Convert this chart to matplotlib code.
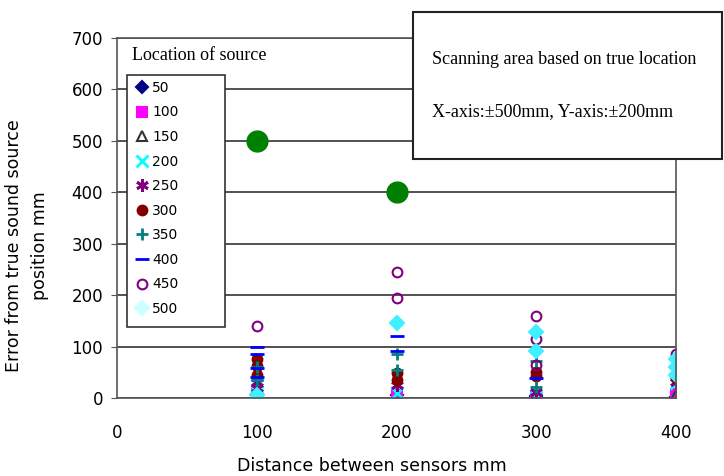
import matplotlib.pyplot as plt
from matplotlib.lines import Line2D
from matplotlib.patches import Rectangle

# data (distance between sensors, error mm)
x_50 = [100, 200, 300, 400]
y_50 = [8, 5, 3, 2]
x_100 = [100, 200, 300, 400]
y_100 = [14, 6, 4, 8]
x_150 = [100, 200, 300, 400]
y_150 = [3, 2, 2, 5]
x_200 = [100, 100, 200, 300, 400]
y_200 = [25, 12, 10, 2, 30]
x_250 = [100, 100, 200, 300, 400]
y_250 = [32, 20, 25, 12, 32]
x_300 = [100, 100, 100, 200, 200, 300, 300, 400]
y_300 = [75, 62, 45, 48, 35, 50, 42, 38]
x_350 = [100, 100, 200, 200, 300, 300, 400]
y_350 = [60, 35, 85, 55, 72, 22, 45]
x_400 = [100, 100, 100, 100, 200, 200, 300, 400]
y_400 = [100, 85, 58, 40, 120, 92, 38, 60]
x_450 = [100, 200, 200, 300, 300, 300, 400]
y_450 = [140, 245, 195, 160, 115, 65, 85]
x_500 = [100, 200, 300, 300, 400, 400, 400]
y_500 = [5, 145, 128, 92, 75, 60, 45]
x_big = [100, 200]
y_big = [500, 400]

labels = ['50', '100', '150', '200', '250', '300', '350', '400', '450', '500']
xs = [x_50, x_100, x_150, x_200, x_250, x_300, x_350, x_400, x_450, x_500]
ys = [y_50, y_100, y_150, y_200, y_250, y_300, y_350, y_400, y_450, y_500]

# marker, face colour, edge colour, size
styles = [
    ('D', '#000080', '#000080', 6),
    ('s', '#FF00FF', '#FF00FF', 7),
    ('^', 'none', '#333333', 7),
    ('x', '#00FFFF', '#00FFFF', 8),
    ((6, 2, 0), '#800080', '#800080', 9),
    ('o', '#800000', '#800000', 7),
    ('+', '#008080', '#008080', 9),
    ('_', '#0000FF', '#0000FF', 10),
    ('o', 'none', '#800080', 7),
    ('D', '#40F0FF', '#40F0FF', 7),
]
thick = ('_', '+', 'x', (6, 2, 0))

W, H = 724, 476
fig = plt.figure(figsize=(7.24, 4.76), dpi=100)
ax = fig.add_axes([117 / W, 1 - 398 / H, 559 / W, 360 / H])

for x, y, (m, fc, ec, ms) in zip(xs, ys, styles):
    ax.plot(x, y, linestyle='none', marker=m, markersize=ms,
            markerfacecolor=fc, markeredgecolor=ec,
            markeredgewidth=2 if m in thick else 1.5)
ax.plot(x_big, y_big, linestyle='none', marker='o', markersize=15,
        color='#008000')

ax.set_xlim(0, 400)
ax.set_ylim(0, 700)
ax.set_xticks([0, 100, 200, 300, 400])
ax.set_yticks(range(0, 701, 100))
ax.yaxis.grid(True, color='#333333', linewidth=1.2)
ax.set_axisbelow(True)
for s in ax.spines.values():
    s.set_color('#555555')
    s.set_linewidth(1.2)
ax.tick_params(axis='x', length=0, pad=19, labelsize=12)
ax.tick_params(axis='y', length=4, pad=6, labelsize=12, color='#555555')

fig.text(27 / W, 0.485, 'Error from true sound source\nposition mm', rotation=90,
         ha='center', va='center', fontsize=12.5, linespacing=1.6)
fig.text(0.514, 1 / H, 'Distance between sensors mm', ha='center', va='bottom',
         fontsize=12.5)

# legend box drawn separately so it matches the reference size
ax.add_patch(Rectangle((127 / W, 1 - 327 / H), 98 / W, 252 / H,
                       transform=fig.transFigure, facecolor='white',
                       edgecolor='#333333', linewidth=1.2, zorder=4,
                       clip_on=False))
handles = []
for lab, (m, fc, ec, ms) in zip(labels, styles):
    if lab == '500':
        fc = ec = '#CCFFFF'
    handles.append(Line2D([], [], linestyle='none', marker=m, markersize=ms,
                          markerfacecolor=fc, markeredgecolor=ec,
                          markeredgewidth=2 if m in thick else 1.5,
                          label=lab))
leg = ax.legend(handles=handles, loc='upper left', bbox_to_anchor=(0.0265, 0.895),
                fontsize=10, frameon=False, handlelength=0.75,
                handletextpad=0.36, labelspacing=0.76, borderpad=0.37,
                borderaxespad=0)
leg.set_zorder(6)

fig.text(132 / W, 1 - 55 / H, 'Location of source', family='Liberation Serif',
         fontsize=13, ha='left', va='center')

# annotation box
fig.patches.append(Rectangle((413 / W, 1 - 159 / H), 309 / W, 147 / H,
                             transform=fig.transFigure, facecolor='white',
                             edgecolor='#222222', linewidth=1.5, zorder=5))
fig.text(432 / W, 1 - 60 / H, 'Scanning area based on true location',
         family='Liberation Serif', fontsize=13, ha='left', va='center', zorder=6)
fig.text(432 / W, 1 - 112 / H, 'X-axis:±500mm, Y-axis:±200mm',
         family='Liberation Serif', fontsize=13, ha='left', va='center', zorder=6)

fig.savefig('out.png', dpi=100)
